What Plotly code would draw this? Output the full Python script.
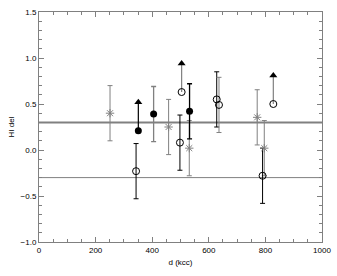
import plotly.graph_objects as go

# ---- data ----
ast_d = [251, 458, 531, 771, 796]
ast_v = [0.40, 0.25, 0.02, 0.355, 0.02]
ast_err = [0.30, 0.30, 0.30, 0.30, 0.30]

fill_d = [405, 532]
fill_v = [0.39, 0.42]
fill_err = [0.30, 0.30]
fill_bar_color = ["#808080", "#000000"]

open_d = [343, 498, 628, 636, 790]
open_v = [-0.23, 0.08, 0.55, 0.49, -0.28]
open_err = [0.30, 0.30, 0.30, 0.30, 0.30]
open_bar_color = ["#000000", "#000000", "#000000", "#808080", "#000000"]

# lower limits (point + arrow up)
lim_fill_d = [351]
lim_fill_v = [0.21]
lim_open_d = [504, 828]
lim_open_v = [0.63, 0.50]
lim_len = 0.31

hlines = [0.30, -0.30]
hline_width = [2, 1]

GRAY = "#808080"
FONT = dict(family="Liberation Sans, Arial", size=8, color="black")
fig = go.Figure()


def add_bars(d, v, err, colors, width=1):
    for xi, yi, ei, ci in zip(d, v, err, colors):
        fig.add_trace(go.Scatter(x=[xi], y=[yi], mode="markers",
                                 marker=dict(size=1, color="rgba(0,0,0,0)"),
                                 error_y=dict(type="data", array=[ei], arrayminus=[ei],
                                              color=ci, thickness=width, width=2.5),
                                 showlegend=False, hoverinfo="skip"))


for y0, w in zip(hlines, hline_width):
    fig.add_shape(type="line", xref="paper", x0=0, x1=1, yref="y", y0=y0, y1=y0,
                  line=dict(color=GRAY, width=w), layer="below")

add_bars(ast_d, ast_v, ast_err, [GRAY] * len(ast_d))
add_bars(fill_d, fill_v, fill_err, fill_bar_color, width=1.3)
add_bars(open_d, open_v, open_err, open_bar_color)


def add_limits(d, v, color):
    fig.add_trace(go.Scatter(x=d, y=v, mode="markers",
                             marker=dict(size=1, color="rgba(0,0,0,0)"),
                             error_y=dict(type="data", array=[lim_len] * len(d),
                                          arrayminus=[0] * len(d), color=color,
                                          thickness=1.2, width=0),
                             showlegend=False, hoverinfo="skip"))
    fig.add_trace(go.Scatter(x=d, y=[vi + lim_len for vi in v], mode="markers",
                             marker=dict(symbol="triangle-up", size=7, color="black"),
                             showlegend=False))


add_limits(lim_fill_d, lim_fill_v, "black")
add_limits(lim_open_d, lim_open_v, GRAY)

# markers
fig.add_trace(go.Scatter(x=ast_d, y=ast_v, mode="markers",
                         marker=dict(symbol="asterisk-open", size=7, color=GRAY,
                                     line=dict(color=GRAY, width=1)),
                         showlegend=False))
fig.add_trace(go.Scatter(x=fill_d + lim_fill_d, y=fill_v + lim_fill_v, mode="markers",
                         marker=dict(symbol="circle", size=7, color="black"),
                         showlegend=False))
fig.add_trace(go.Scatter(x=open_d + lim_open_d, y=open_v + lim_open_v, mode="markers",
                         marker=dict(symbol="circle-open", size=7, color="black",
                                     line=dict(color="black", width=1)),
                         showlegend=False))

axis_common = dict(showline=True, linecolor=GRAY, linewidth=1, mirror="ticks",
                   ticks="inside", ticklen=5, tickcolor=GRAY, tickwidth=1,
                   showgrid=False, zeroline=False, tickfont=FONT)

fig.update_xaxes(range=[0, 1000], tickvals=[0, 200, 400, 600, 800, 1000],
                 ticktext=["0", "200", "400", "600", "800", "1000"],
                 ticklabeloverflow="allow",
                 minor=dict(dtick=50, ticks="inside", ticklen=3, tickcolor=GRAY),
                 title=dict(text="d (kcc)", font=FONT, standoff=5),
                 **axis_common)
fig.update_yaxes(range=[-1.0, 1.5], tickvals=[-1.0, -0.5, 0.0, 0.5, 1.0, 1.5], tickformat=".1f",
                 minor=dict(dtick=0.1, ticks="inside", ticklen=3, tickcolor=GRAY),
                 title=dict(text="HI del", font=FONT, standoff=4),
                 **axis_common)

fig.update_layout(width=337, height=276, margin=dict(l=39, r=15, t=12, b=34, autoexpand=False),
                  paper_bgcolor="white", plot_bgcolor="white", showlegend=False)

fig.write_html("out.html", config={"displayModeBar": False},
               post_script="document.body.style.margin='0';")
